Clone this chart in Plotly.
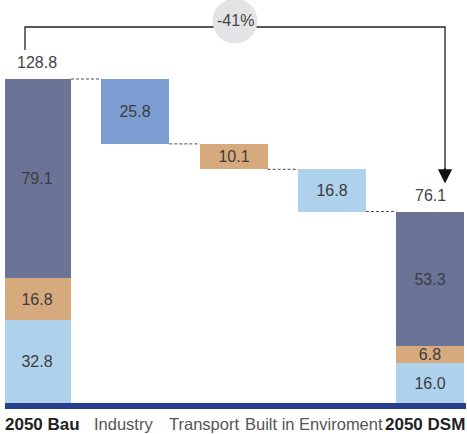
import plotly.graph_objects as go

# ---- data ----
categories = ["2050 Bau", "Industry", "Transport", "Built in Enviroment", "2050 DSM"]
sectors = ["Built environment", "Transport", "Industry"]
bau_values = [32.8, 16.8, 79.1]        # stacked bottom -> top
dsm_values = [16.0, 6.8, 53.3]
reduction_values = [25.8, 10.1, 16.8]  # Industry, Transport, Built environment
bau_total = 128.8
dsm_total = 76.1

# ---- styles ----
stack_colors = ["#aed1ec", "#d7aa7e", "#6b7497"]
reduction_colors = ["#7b9dd2", "#d7aa7e", "#aed1ec"]
txt_color = "#3c3c3c"
FONT = "Liberation Sans, Arial, sans-serif"
BAR_W = 0.692
PX_PER_CAT = 98.3
X_RANGE = [-0.3255, 4.364]

fig = go.Figure()

# stacked total bars
base_b, base_d = 0.0, 0.0
for i, name in enumerate(sectors):
    fig.add_trace(go.Bar(
        x=[categories[0], categories[4]],
        y=[bau_values[i], dsm_values[i]],
        base=[base_b, base_d],
        name=name,
        marker=dict(color=stack_colors[i], line=dict(width=0)),
        width=BAR_W,
        text=[f"{bau_values[i]:.1f}", f"{dsm_values[i]:.1f}"],
        textposition="inside", insidetextanchor="middle",
        textfont=dict(color=txt_color, size=16, family=FONT),
        showlegend=False, hoverinfo="skip",
    ))
    base_b += bau_values[i]
    base_d += dsm_values[i]

# floating reduction bars
levels = [bau_total]
for r in reduction_values:
    levels.append(round(levels[-1] - r, 1))
for j, r in enumerate(reduction_values):
    fig.add_trace(go.Bar(
        x=[categories[j + 1]], y=[r], base=[levels[j + 1]],
        marker=dict(color=reduction_colors[j], line=dict(width=0)),
        width=BAR_W,
        text=[f"{r:.1f}"], textposition="inside", insidetextanchor="middle",
        textfont=dict(color=txt_color, size=16, family=FONT),
        showlegend=False, hoverinfo="skip",
    ))

shapes = []
# dashed connectors
for k, lvl in enumerate(levels):
    shapes.append(dict(type="line", xref="x", yref="y",
                       x0=k + BAR_W / 2, x1=k + 1 - BAR_W / 2, y0=lvl, y1=lvl,
                       line=dict(color="#4a4a4a", width=1, dash="3px,2px")))

# bracket
Y_TOP = 160.2
k_px = 403 / Y_TOP  # pixels per unit
br_y = bau_total + 52 / k_px
left_x = -12 / PX_PER_CAT
right_x = 4 + 14.8 / PX_PER_CAT
shapes.append(dict(type="path", xref="x", yref="y",
                   path=f"M {left_x},{bau_total + 29 / k_px} L {left_x},{br_y} L {right_x},{br_y} L {right_x},{dsm_total + 36 / k_px}",
                   line=dict(color="#222222", width=1.3)))
mid_x = (left_x + right_x) / 2
circ_y = br_y + 6 / k_px
shapes.append(dict(type="circle", xref="x", yref="y", xsizemode="pixel", ysizemode="pixel",
                   xanchor=mid_x, yanchor=circ_y, x0=-22.5, x1=22.5, y0=-22.5, y1=22.5,
                   fillcolor="#e3e4e6", line=dict(width=0)))

pct = round((dsm_total - bau_total) / bau_total * 100)

annotations = [
    dict(x=mid_x, y=circ_y, xref="x", yref="y", text=f"{pct}%", showarrow=False,
         font=dict(size=16, color="#444444", family=FONT)),
    dict(x=categories[0], y=bau_total, xref="x", yref="y", text=f"{bau_total:.1f}",
         showarrow=False, yanchor="bottom", yshift=6,
         font=dict(size=16, color="#444444", family=FONT)),
    dict(x=categories[4], y=dsm_total, xref="x", yref="y", text=f"{dsm_total:.1f}",
         showarrow=False, yanchor="bottom", yshift=6,
         font=dict(size=16, color="#444444", family=FONT)),
    # arrow head
    dict(x=right_x, y=dsm_total + 28 / k_px, ax=right_x, ay=dsm_total + 45 / k_px,
         xref="x", yref="y", axref="x", ayref="y", text="", showarrow=True,
         arrowhead=2, arrowsize=2.2, arrowwidth=1.3, arrowcolor="#111111", standoff=0),
]
label_shift = [5.5, -12, -30, -18, -5]
for i, c in enumerate(categories):
    bold = i in (0, 4)
    annotations.append(dict(
        x=i, y=0, xref="x", yref="paper", yanchor="middle", yshift=-21, xshift=label_shift[i],
        text=f"<b>{c}</b>" if bold else c, showarrow=False,
        font=dict(size=17 if bold else 16.5, color="#222222" if bold else "#555555", family=FONT)))

fig.update_layout(
    width=467, height=434,
    margin=dict(l=5, r=1, t=0, b=31),
    paper_bgcolor="white", plot_bgcolor="white",
    barmode="overlay", bargap=0,
    uniformtext=dict(minsize=16, mode="show"),
    shapes=shapes, annotations=annotations,
    xaxis=dict(type="category", categoryorder="array", categoryarray=categories,
               range=X_RANGE, showticklabels=False, showgrid=False,
               zeroline=False, showline=True, linewidth=6, linecolor="#263f8f", ticks=""),
    yaxis=dict(range=[0, Y_TOP], visible=False, showgrid=False, zeroline=False),
)

fig.write_html("out.html", config={"displayModeBar": False},
               post_script="document.body.style.margin='0';document.body.style.overflow='hidden';")
